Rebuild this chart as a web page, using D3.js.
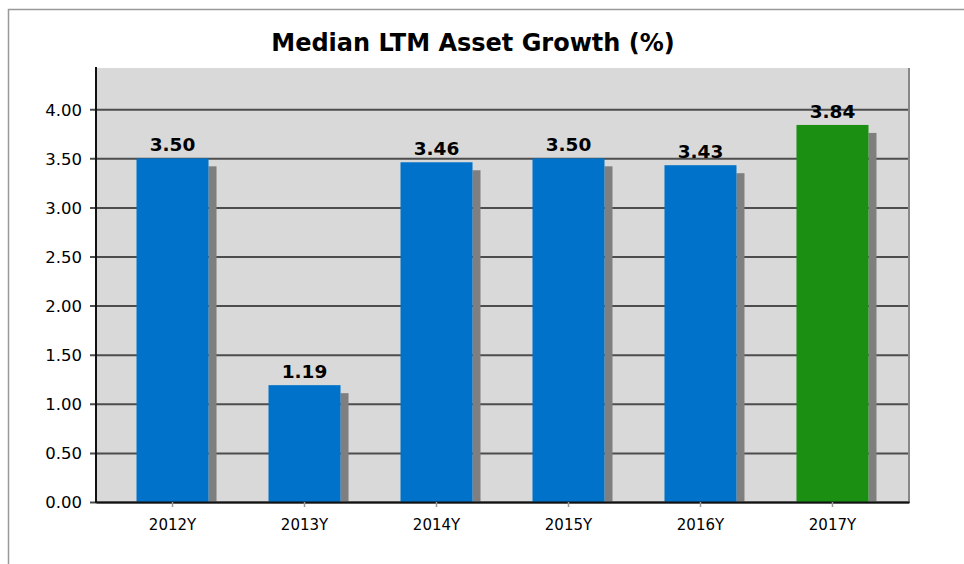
<!DOCTYPE html>
<html>
<head>
<meta charset="utf-8">
<script src="https://cdn.jsdelivr.net/npm/d3@7"></script>
<style>
    body { margin: 0; background: #fff; }
    svg { display: block; font-family: "DejaVu Sans", sans-serif; }
</style>
</head>
<body>
<svg width="964" height="564"></svg>
<script>
// Данные графика
const years = ["2012Y", "2013Y", "2014Y", "2015Y", "2016Y", "2017Y"];
const growth = [3.50, 1.19, 3.46, 3.50, 3.43, 3.84];
const barColors = ["#0072c9", "#0072c9", "#0072c9", "#0072c9", "#0072c9", "#1a8f12"];
const yTicks = [0, 0.5, 1, 1.5, 2, 2.5, 3, 3.5, 4];

const svg = d3.select("svg");

const area = { left: 96, right: 909, top: 68, bottom: 502 };

// внешняя рамка
svg.append("rect")
    .attr("x", 8.5).attr("y", 9.5)
    .attr("width", 1000).attr("height", 600)
    .attr("fill", "#fff")
    .attr("stroke", "#999").attr("stroke-width", 1.5);

svg.append("text")
    .attr("x", 473).attr("y", 51)
    .attr("text-anchor", "middle")
    .style("font-size", "24px").style("font-weight", "bold")
    .text("Median LTM Asset Growth (%)");

const scaleX = d3.scaleBand()
    .domain(years)
    .range([area.left, area.right])
    .paddingInner(0.4545)
    .paddingOuter(0.307);

const scaleY = d3.scaleLinear()
    .domain([0, 4.42])
    .range([area.bottom, area.top]);

// фон области построения
svg.append("rect")
    .attr("x", area.left).attr("y", area.top)
    .attr("width", area.right - area.left).attr("height", area.bottom - area.top)
    .attr("fill", "#d9d9d9");

// сетка и ось Y
const axisY = d3.axisLeft(scaleY)
    .tickValues(yTicks)
    .tickFormat(d3.format(".2f"))
    .tickSize(-(area.right - area.left + 6))
    .tickSizeOuter(0);

const gY = svg.append("g")
    .attr("transform", `translate(${area.right}, 0)`)
    .call(axisY)
    .attr("font-family", null);
gY.select(".domain").remove();
gY.selectAll(".tick line")
    .attr("x1", 0).attr("x2", -(area.right - area.left + 6))
    .attr("stroke", "#4d4d4d").attr("stroke-width", 2);
gY.selectAll(".tick text")
    .attr("x", -(area.right - area.left + 14))
    .attr("dy", "0.36em")
    .style("font-size", "16.5px").style("fill", "#000");

// правая граница
svg.append("line")
    .attr("x1", area.right).attr("x2", area.right)
    .attr("y1", area.top).attr("y2", area.bottom + 1)
    .attr("stroke", "#888").attr("stroke-width", 2);

// тени столбцов
const shadowW = 8, shadowDy = 8;
svg.selectAll(".shadow")
    .data(growth)
    .enter()
    .append("rect")
    .attr("class", "shadow")
    .attr("x", (d, i) => scaleX(years[i]) + scaleX.bandwidth())
    .attr("y", d => scaleY(d) + shadowDy)
    .attr("width", shadowW)
    .attr("height", d => area.bottom - scaleY(d) - shadowDy)
    .attr("fill", "#7f7f7f");

svg.selectAll(".bar")
    .data(growth)
    .enter()
    .append("rect")
    .attr("class", "bar")
    .attr("x", (d, i) => scaleX(years[i]))
    .attr("y", d => scaleY(d))
    .attr("width", scaleX.bandwidth())
    .attr("height", d => area.bottom - scaleY(d))
    .attr("fill", (d, i) => barColors[i]);

svg.selectAll(".value")
    .data(growth)
    .enter()
    .append("text")
    .attr("class", "value")
    .attr("x", (d, i) => scaleX(years[i]) + scaleX.bandwidth() / 2)
    .attr("y", d => scaleY(d) - 7)
    .attr("text-anchor", "middle")
    .style("font-size", "18.5px").style("font-weight", "bold")
    .text(d => d.toFixed(2));

// ось X
const axisX = d3.axisBottom(scaleX).tickSize(5).tickSizeOuter(0);
const gX = svg.append("g")
    .attr("transform", `translate(0, ${area.bottom})`)
    .call(axisX)
    .attr("font-family", null);
gX.select(".domain").attr("stroke", "#111").attr("stroke-width", 2);
gX.selectAll(".tick line").attr("stroke", "#999").attr("stroke-width", 1.5);
gX.selectAll(".tick text")
    .attr("y", 17.5)
    .style("font-size", "15px").style("fill", "#000");

// левая ось
svg.append("line")
    .attr("x1", area.left).attr("x2", area.left)
    .attr("y1", area.top - 1).attr("y2", area.bottom + 1)
    .attr("stroke", "#111").attr("stroke-width", 2);
</script>
</body>
</html>
